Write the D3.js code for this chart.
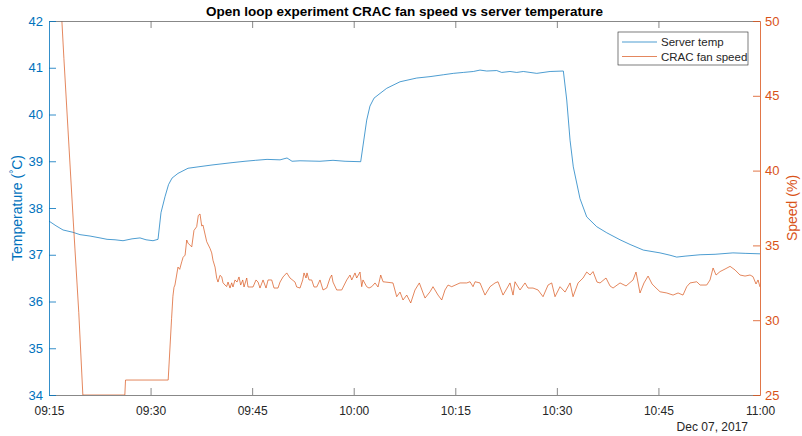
<!DOCTYPE html>
<html>
<head>
<meta charset="utf-8">
<script src="https://cdn.jsdelivr.net/npm/d3@7"></script>
<style>
  body { margin: 0; background: #fff; }
  svg { font-family: "Liberation Sans", Arial, Helvetica, sans-serif; }
</style>
</head>
<body>
<div id="viz"></div>
<script>
const width = 802;
const height = 436;
const margin = {top: 21, right: 42, bottom: 41, left: 49};

// minutes after 09:15 on Dec 07, 2017 -> value
const serverTemp = [
  [0, 37.72], [1.03, 37.62], [2.07, 37.53], [3.54, 37.48], [4.58, 37.43], [6.06, 37.40],
  [7.53, 37.36], [8.57, 37.33], [9.75, 37.32], [10.93, 37.30], [12.26, 37.34], [13.44, 37.36],
  [14.33, 37.32], [15.36, 37.30], [16.10, 37.33], [16.54, 37.90], [17.13, 38.24], [17.65, 38.50],
  [18.17, 38.64], [19.05, 38.74], [20.53, 38.85], [22.01, 38.88], [24.07, 38.92], [27.03, 38.97],
  [28.95, 39.00], [30.5, 39.02], [32.20, 39.04], [34.12, 39.03], [35.15, 39.07], [35.89, 39.00],
  [37.07, 39.01], [40.02, 39.00], [41.94, 39.02], [43.72, 39.00], [46.03, 38.99], [46.92, 39.88],
  [47.4, 40.18], [48.0, 40.35], [48.88, 40.45], [49.87, 40.56], [51.84, 40.70], [54.3, 40.78],
  [56.27, 40.81], [58.24, 40.85], [59.71, 40.88], [61.19, 40.90], [62.67, 40.92], [63.65, 40.95],
  [64.64, 40.93], [66.12, 40.94], [66.86, 40.90], [68.08, 40.92], [69.07, 40.90], [70.05, 40.92],
  [72.03, 40.88], [74.0, 40.92], [75.96, 40.93], [76.46, 40.31], [76.95, 39.45], [77.43, 38.88],
  [78.42, 38.20], [79.41, 37.81], [80.89, 37.60], [82.37, 37.47], [84.33, 37.32], [85.81, 37.22],
  [87.77, 37.10], [90.24, 37.04], [91.71, 36.99], [92.70, 36.95], [93.93, 36.97], [96.15, 37.00],
  [98.36, 37.01], [101.0, 37.04], [102.8, 37.03], [105.0, 37.02]
];

const fanSpeed = [
  [0.0, 66.0], [2.2, 47.5], [3.6, 36.5], [4.4, 30.5], [5.0, 25.0],
  [11.2, 25.0], [11.3, 26.0], [17.6, 26.0],
  [18.1, 30.1], [18.3, 31.6], [18.46, 32.2], [18.6, 32.35], [19.05, 33.55], [19.3, 33.4], [19.6, 33.9],
  [19.8, 34.2], [20.1, 34.35], [20.34, 35.36], [20.53, 35.15], [21.08, 34.9], [21.41, 36.0],
  [21.81, 36.25], [22.05, 37.0], [22.3, 37.1], [22.55, 36.3], [22.74, 36.36], [23.29, 35.25],
  [23.78, 34.8], [24.03, 34.5], [24.22, 34.0], [24.52, 33.55], [24.77, 32.8], [24.96, 32.55],
  [25.25, 33.0], [25.51, 32.9], [25.7, 32.5], [25.99, 32.35], [26.24, 32.25],
  [26.44, 32.55], [26.73, 32.15], [26.98, 32.5], [27.17, 32.22], [27.47, 32.69], [27.77, 32.55],
  [28.06, 32.89], [28.31, 32.35], [28.61, 32.69], [28.8, 32.22], [29.2, 32.82], [29.39, 32.22],
  [30.13, 32.22], [30.57, 32.69], [30.87, 32.55], [31.16, 32.15], [31.61, 32.69], [32.05, 32.15],
  [32.35, 32.69], [32.89, 32.69], [33.23, 32.15], [33.82, 32.15], [34.12, 32.55], [34.56, 32.89],
  [35.11, 33.16], [35.59, 32.82], [36.33, 32.55], [36.58, 32.22], [37.07, 32.15], [37.47, 32.69],
  [37.66, 33.16], [37.96, 32.82], [38.1, 33.16], [38.4, 32.69], [38.8, 32.69], [39.14, 32.22],
  [39.54, 32.22], [40.02, 32.69], [40.47, 32.02], [41.01, 32.15], [41.5, 32.82], [41.75, 33.02],
  [41.94, 32.55], [42.49, 32.02], [43.23, 32.02], [43.97, 32.69], [44.45, 33.02], [44.71, 32.69],
  [45.19, 33.16], [45.44, 32.82], [45.93, 33.22], [46.18, 32.24], [46.37, 32.69], [46.92, 32.24],
  [47.26, 32.15], [47.66, 32.24], [48.15, 32.49], [48.59, 32.22], [48.99, 33.02], [49.33, 32.57],
  [50.8, 32.49], [51.35, 31.57], [51.84, 31.88], [52.28, 31.35], [52.83, 31.68], [53.42, 31.15],
  [54.05, 32.02], [54.69, 32.49], [55.24, 31.82], [55.53, 31.48], [56.27, 31.9], [56.71, 32.24],
  [57.45, 31.68], [58.0, 31.35], [58.48, 32.02], [58.93, 32.35], [59.47, 32.24], [60.7, 32.49],
  [61.69, 32.49], [62.18, 32.57], [62.62, 32.24], [62.92, 32.57], [63.65, 32.49], [64.39, 31.68],
  [65.13, 32.24], [65.87, 32.49], [66.31, 32.57], [67.05, 31.68], [67.49, 32.02], [68.08, 32.49],
  [68.53, 31.68], [68.82, 32.57], [69.56, 32.02], [70.3, 32.49], [70.74, 32.15], [71.48, 32.15],
  [72.22, 32.02], [72.96, 31.57], [73.7, 32.35], [74.24, 32.49], [74.73, 31.57], [75.47, 32.24],
  [76.21, 31.88], [76.95, 32.49], [77.39, 31.57], [78.13, 32.49], [78.87, 32.82], [79.41, 33.22],
  [79.91, 33.02], [80.34, 33.25], [80.93, 32.55], [81.38, 32.49], [82.26, 32.82], [82.85, 32.29],
  [83.3, 32.15], [84.33, 32.49], [85.22, 32.29], [86.25, 32.69], [86.69, 33.22], [87.28, 31.82],
  [87.87, 32.49], [88.47, 32.95], [89.06, 32.42], [89.65, 32.15], [90.24, 31.9], [91.23, 31.82],
  [92.16, 31.68], [92.9, 31.82], [93.63, 31.68], [94.18, 32.24], [94.67, 32.49], [95.66, 32.57],
  [96.15, 32.35], [97.13, 32.35], [97.62, 32.69], [98.07, 33.49], [98.51, 33.02], [99.1, 33.25],
  [99.84, 33.42], [100.58, 33.6], [101.31, 33.36], [102.05, 33.02], [102.79, 32.95], [103.53, 33.02],
  [103.97, 32.91], [104.41, 32.42], [104.71, 32.69], [105.0, 32.22]
];

const timeTicks = [0, 15, 30, 45, 60, 75, 90, 105];
const tempTicks = [34, 35, 36, 37, 38, 39, 40, 41, 42];
const speedTicks = [25, 30, 35, 40, 45, 50];
const seriesNames = ["Server temp", "CRAC fan speed"];
const dateLabel = "Dec 07, 2017";

const blue = "#0072BD";
const orange = "#D95319";
const axisGray = "#262626";

const t0 = new Date(2017, 11, 7, 9, 15);
const toDate = m => new Date(t0.getTime() + m * 60000);

const svg = d3.select("#viz").append("svg")
  .attr("width", width)
  .attr("height", height);

const x = d3.scaleTime()
  .domain([toDate(0), toDate(105)])
  .range([margin.left, width - margin.right]);

const yTemp = d3.scaleLinear()
  .domain([34, 42])
  .range([height - margin.bottom, margin.top]);

const ySpeed = d3.scaleLinear()
  .domain([25, 50])
  .range([height - margin.bottom, margin.top]);

svg.append("clipPath").attr("id", "plotclip")
  .append("rect")
  .attr("x", margin.left).attr("y", margin.top)
  .attr("width", width - margin.left - margin.right)
  .attr("height", height - margin.top - margin.bottom);

// lines
const tempLine = d3.line().x(d => x(toDate(d[0]))).y(d => yTemp(d[1]));
const speedLine = d3.line().x(d => x(toDate(d[0]))).y(d => ySpeed(d[1]));

const plot = svg.append("g").attr("clip-path", "url(#plotclip)");
plot.append("path").datum(serverTemp)
  .attr("d", tempLine).attr("fill", "none")
  .attr("stroke", blue).attr("stroke-width", 0.7);
plot.append("path").datum(fanSpeed)
  .attr("d", speedLine).attr("fill", "none")
  .attr("stroke", orange).attr("stroke-width", 0.7);

// axes (ticks point inward like matlab)
const tickLen = 7;
const fmt = d3.timeFormat("%H:%M");
const xBottom = svg.append("g")
  .attr("transform", `translate(0,${height - margin.bottom})`)
  .call(d3.axisBottom(x).tickValues(timeTicks.map(toDate)).tickFormat(fmt).tickSizeInner(-tickLen).tickSizeOuter(0).tickPadding(11));
const xTop = svg.append("g")
  .attr("transform", `translate(0,${margin.top})`)
  .call(d3.axisTop(x).tickValues(timeTicks.map(toDate)).tickFormat("").tickSizeInner(-tickLen).tickSizeOuter(0));
[xBottom, xTop].forEach(g => {
  g.select(".domain").attr("stroke", "#6a6a6a").attr("stroke-width", 0.8);
  g.selectAll(".tick line").attr("stroke", "#6a6a6a").attr("stroke-width", 0.8);
  g.selectAll(".tick text").attr("fill", axisGray).attr("font-size", 12).attr("font-family", null);
});
// the end ticks sit on the y axes
xBottom.selectAll(".tick line").filter((d, i) => i === 0 || i === timeTicks.length - 1).remove();
xTop.selectAll(".tick line").filter((d, i) => i === 0 || i === timeTicks.length - 1).remove();

const yLeft = svg.append("g")
  .attr("transform", `translate(${margin.left},0)`)
  .call(d3.axisLeft(yTemp).tickValues(tempTicks).tickSizeInner(-tickLen).tickSizeOuter(0).tickPadding(6));
const yRight = svg.append("g")
  .attr("transform", `translate(${width - margin.right},0)`)
  .call(d3.axisRight(ySpeed).tickValues(speedTicks).tickSizeInner(-tickLen).tickSizeOuter(0).tickPadding(5));
[[yLeft, blue], [yRight, orange]].forEach(([g, c]) => {
  g.select(".domain").attr("stroke", c).attr("stroke-width", 0.8);
  g.selectAll(".tick line").attr("stroke", c).attr("stroke-width", 0.8);
  g.selectAll(".tick text").attr("fill", c).attr("font-size", 13).attr("font-family", null);
});

// date under the last tick
svg.append("text")
  .attr("x", width - margin.right - 12)
  .attr("y", 431)
  .attr("text-anchor", "end")
  .attr("font-size", 12)
  .attr("fill", axisGray)
  .text(dateLabel);

// title
svg.append("text")
  .attr("x", (margin.left + width - margin.right) / 2)
  .attr("y", 16)
  .attr("text-anchor", "middle")
  .attr("font-size", 13.5)
  .attr("font-weight", "bold")
  .attr("fill", "#000")
  .text("Open loop experiment CRAC fan speed vs server temperature");

// y labels
const midY = (margin.top + height - margin.bottom) / 2;
const tl = svg.append("text")
  .attr("transform", `translate(22,${midY}) rotate(-90)`)
  .attr("text-anchor", "middle")
  .attr("font-size", 14)
  .attr("fill", blue);
tl.append("tspan").text("Temperature (");
tl.append("tspan").attr("font-size", 10).attr("dy", -5).text("°");
tl.append("tspan").attr("dy", 5).text("C)");

svg.append("text")
  .attr("transform", `translate(797,${midY}) rotate(-90)`)
  .attr("text-anchor", "middle")
  .attr("font-size", 14)
  .attr("fill", orange)
  .text("Speed (%)");

// legend
const lg = svg.append("g").attr("transform", "translate(618,32)");
lg.append("rect")
  .attr("width", 130).attr("height", 33)
  .attr("fill", "#fff").attr("stroke", axisGray).attr("stroke-width", 0.6);
lg.selectAll("line.key")
  .data(seriesNames)
  .join("line")
  .attr("x1", 4).attr("x2", 39)
  .attr("y1", (d, i) => 10 + i * 14.5).attr("y2", (d, i) => 10 + i * 14.5)
  .attr("stroke", (d, i) => i === 0 ? blue : orange)
  .attr("stroke-width", 0.7);
lg.selectAll("text")
  .data(seriesNames)
  .join("text")
  .attr("x", 43)
  .attr("y", (d, i) => 14 + i * 14.5)
  .attr("font-size", 11.5)
  .attr("fill", axisGray)
  .text(d => d);
</script>
</body>
</html>
